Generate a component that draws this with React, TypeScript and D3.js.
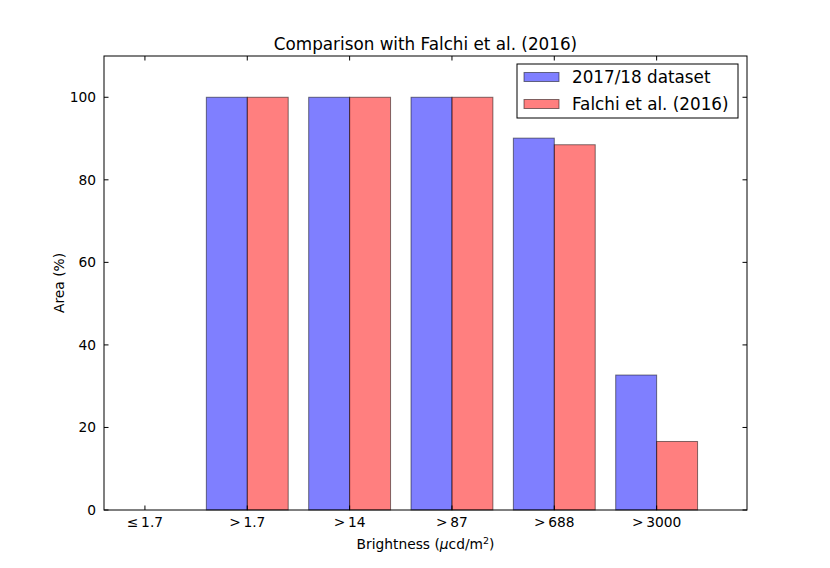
import React from "react";
import * as d3 from "d3";

const categories = ["\u2264\u20091.7", ">\u20091.7", ">\u200914", ">\u200987", ">\u2009688", ">\u20093000"];
const dataset2017 = [0, 100, 100, 100, 90.1, 32.7];
const falchi2016 = [0, 100, 100, 100, 88.5, 16.6];
const yTicks = [0, 20, 40, 60, 80, 100];
const seriesNames = ["2017/18 dataset", "Falchi et al. (2016)"];

const W = 830, H = 568;
const L = 104, R = 747, T = 56, B = 510;
const FONT = "DejaVu Sans, sans-serif";

export default function App() {
  const x = d3.scaleLinear().domain([-0.4, 5.883]).range([L, R]);
  const y = d3.scaleLinear().domain([0, 110]).range([B, T]);
  const bw = 0.4;
  const series = [
    { vals: dataset2017, fill: "#0000ff", off: -bw },
    { vals: falchi2016, fill: "#ff0000", off: 0 },
  ];
  const tl = 4.5;
  return (
    <svg width={W} height={H} style={{ position: "absolute", left: 0, top: 0, background: "#fff" }} fontFamily={FONT}>
      <rect x={0} y={0} width={W} height={H} fill="#fff" />
      {series.map((s, si) =>
        s.vals.map((v, i) => {
          const x0 = x(i + s.off), x1 = x(i + s.off + bw);
          return (
            <rect key={si + "-" + i} x={x0} y={y(v)} width={x1 - x0} height={y(0) - y(v)}
              fill={s.fill} fillOpacity={0.5} stroke="#000" strokeOpacity={0.5} strokeWidth={1} />
          );
        })
      )}
      <rect x={L} y={T} width={R - L} height={B - T} fill="none" stroke="#000" strokeWidth={1} />
      {categories.map((c, i) => (
        <g key={c}>
          <line x1={x(i)} x2={x(i)} y1={B} y2={B - tl} stroke="#000" />
          <line x1={x(i)} x2={x(i)} y1={T} y2={T + tl} stroke="#000" />
          <text x={x(i)} y={527} textAnchor="middle" fontSize={13.8}>{c}</text>
        </g>
      ))}
      {yTicks.map((t) => (
        <g key={t}>
          <line x1={L} x2={L + tl} y1={y(t)} y2={y(t)} stroke="#000" />
          <line x1={R} x2={R - tl} y1={y(t)} y2={y(t)} stroke="#000" />
          <text x={L - 8} y={y(t) + 5} textAnchor="end" fontSize={13.8}>{t}</text>
        </g>
      ))}
      <text x={(L + R) / 2} y={50} textAnchor="middle" fontSize={16.8}>Comparison with Falchi et al. (2016)</text>
      <text x={(L + R) / 2} y={549} textAnchor="middle" fontSize={13.8}>
        Brightness (<tspan fontStyle="italic">μ</tspan>cd/m<tspan dy={-5} fontSize={9.5}>2</tspan><tspan dy={5}>)</tspan>
      </text>
      <text transform={`translate(64,${(T + B) / 2}) rotate(-90)`} textAnchor="middle" fontSize={13.8}>Area (%)</text>
      <g>
        <rect x={517} y={64} width={221} height={54} fill="#fff" stroke="#000" strokeWidth={1} />
        {seriesNames.map((n, i) => (
          <g key={n}>
            <rect x={524} y={72.5 + i * 27} width={35} height={9} fill={series[i].fill} fillOpacity={0.5}
              stroke="#000" strokeOpacity={0.5} />
            <text x={572} y={83 + i * 27} fontSize={16.8}>{n}</text>
          </g>
        ))}
      </g>
    </svg>
  );
}
